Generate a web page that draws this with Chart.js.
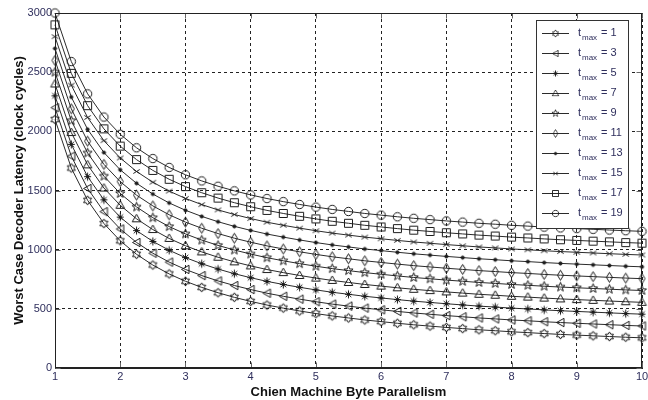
<!DOCTYPE html>
<html>
<head>
<meta charset="utf-8">
<script src="https://cdn.jsdelivr.net/npm/chart.js@4.4.0/dist/chart.umd.min.js"></script>
<style>
  html, body { margin: 0; padding: 0; background: #fff; overflow: hidden; }
</style>
</head>
<body>
<canvas id="latencyChart" width="648" height="400"></canvas>
<script>
// Chien machine byte parallelism (x axis)
const parallelism = [1, 1.25, 1.5, 1.75, 2, 2.25, 2.5, 2.75, 3, 3.25, 3.5, 3.75, 4, 4.25, 4.5, 4.75,
  5, 5.25, 5.5, 5.75, 6, 6.25, 6.5, 6.75, 7, 7.25, 7.5, 7.75, 8, 8.25, 8.5, 8.75, 9, 9.25, 9.5, 9.75, 10];

const tmaxValues = [1, 3, 5, 7, 9, 11, 13, 15, 17, 19];

// Worst case decoder latency (clock cycles), one array per t_max
const lat_t1 = [2100,1690,1417,1221,1075,961,870,795,733,681,636,597,563,532,506,482,460,440,423,406,392,378,365,354,343,333,323,315,306,299,291,284,278,272,266,260,255];
const lat_t3 = [2200,1790,1517,1321,1175,1061,970,895,833,781,736,697,663,632,606,582,560,540,523,506,492,478,465,454,443,433,423,415,406,399,391,384,378,372,366,360,355];
const lat_t5 = [2300,1890,1617,1421,1275,1161,1070,995,933,881,836,797,763,732,706,682,660,640,623,606,592,578,565,554,543,533,523,515,506,499,491,484,478,472,466,460,455];
const lat_t7 = [2400,1990,1717,1521,1375,1261,1170,1095,1033,981,936,897,863,832,806,782,760,740,723,706,692,678,665,654,643,633,623,615,606,599,591,584,578,572,566,560,555];
const lat_t9 = [2500,2090,1817,1621,1475,1361,1270,1195,1133,1081,1036,997,963,932,906,882,860,840,823,806,792,778,765,754,743,733,723,715,706,699,691,684,678,672,666,660,655];
const lat_t11 = [2600,2190,1917,1721,1575,1461,1370,1295,1233,1181,1136,1097,1063,1032,1006,982,960,940,923,906,892,878,865,854,843,833,823,815,806,799,791,784,778,772,766,760,755];
const lat_t13 = [2700,2290,2017,1821,1675,1561,1470,1395,1333,1281,1236,1197,1163,1132,1106,1082,1060,1040,1023,1006,992,978,965,954,943,933,923,915,906,899,891,884,878,872,866,860,855];
const lat_t15 = [2800,2390,2117,1921,1775,1661,1570,1495,1433,1381,1336,1297,1263,1232,1206,1182,1160,1140,1123,1106,1092,1078,1065,1054,1043,1033,1023,1015,1006,999,991,984,978,972,966,960,955];
const lat_t17 = [2900,2490,2217,2021,1875,1761,1670,1595,1533,1481,1436,1397,1363,1332,1306,1282,1260,1240,1223,1206,1192,1178,1165,1154,1143,1133,1123,1115,1106,1099,1091,1084,1078,1072,1066,1060,1055];
const lat_t19 = [3000,2590,2317,2121,1975,1861,1770,1695,1633,1581,1536,1497,1463,1432,1406,1382,1360,1340,1323,1306,1292,1278,1265,1254,1243,1233,1223,1215,1206,1199,1191,1184,1178,1172,1166,1160,1155];

const allSeries = [lat_t1, lat_t3, lat_t5, lat_t7, lat_t9, lat_t11, lat_t13, lat_t15, lat_t17, lat_t19];
const markerKinds = ['hexagram', 'triLeft', 'asterisk', 'triUp', 'pentagram', 'diamond', 'dot', 'cross', 'square', 'circle'];

const ink = '#1c1c1c';
const tickColor = '#2e2e5c';

// marker images, matlab-like
function starPath(g, m, n, ro, ri) {
    for (let i = 0; i < 2 * n; i++) {
        const r = i % 2 === 0 ? ro : ri;
        const a = -Math.PI / 2 + i * Math.PI / n;
        const px = m + r * Math.cos(a), py = m + r * Math.sin(a);
        if (i === 0) g.moveTo(px, py); else g.lineTo(px, py);
    }
    g.closePath();
}

function makeMarker(kind) {
    const c = document.createElement('canvas');
    c.width = 13; c.height = 13;
    const g = c.getContext('2d');
    const m = 6.5;
    g.strokeStyle = ink;
    g.fillStyle = ink;
    g.lineWidth = 1;
    g.beginPath();
    switch (kind) {
        case 'hexagram': starPath(g, m, 6, 4.6, 2.7); break;
        case 'pentagram': starPath(g, m, 5, 4.8, 2.0); break;
        case 'triLeft':
            g.moveTo(m - 4, m); g.lineTo(m + 3.5, m - 4.2); g.lineTo(m + 3.5, m + 4.2); g.closePath(); break;
        case 'triUp':
            g.moveTo(m, m - 4.5); g.lineTo(m + 4.3, m + 3); g.lineTo(m - 4.3, m + 3); g.closePath(); break;
        case 'asterisk':
            g.moveTo(m, m - 4); g.lineTo(m, m + 4);
            g.moveTo(m - 3.5, m); g.lineTo(m + 3.5, m);
            g.moveTo(m - 2.8, m - 2.8); g.lineTo(m + 2.8, m + 2.8);
            g.moveTo(m - 2.8, m + 2.8); g.lineTo(m + 2.8, m - 2.8); break;
        case 'diamond':
            g.moveTo(m, m - 5); g.lineTo(m + 3, m); g.lineTo(m, m + 5); g.lineTo(m - 3, m); g.closePath(); break;
        case 'dot':
            g.arc(m, m, 1.6, 0, Math.PI * 2); g.fill(); break;
        case 'cross':
            g.moveTo(m - 3.2, m - 2); g.lineTo(m + 3.2, m + 2);
            g.moveTo(m - 3.2, m + 2); g.lineTo(m + 3.2, m - 2); break;
        case 'square':
            g.rect(m - 4, m - 4, 8, 8); break;
        case 'circle':
            g.arc(m, m, 4.2, 0, Math.PI * 2); break;
    }
    g.stroke();
    return c;
}

const markerImages = markerKinds.map(makeMarker);

const datasets = allSeries.map((vals, i) => ({
    label: 't_max = ' + tmaxValues[i],
    data: vals.map((v, j) => ({ x: parallelism[j], y: v })),
    borderColor: '#2a2a2a',
    borderWidth: 1,
    pointStyle: markerImages[i],
    pointRadius: 5,
    tension: 0,
    fill: false,
    clip: 10
}));

// frame, inward tick marks and legend box (matlab look)
const matlabFrame = {
    id: 'matlabFrame',
    afterDraw(chart) {
        const { ctx, chartArea: a, scales } = chart;
        const L = Math.round(a.left) + 0.5, R = Math.round(a.right) - 0.5;
        const T = Math.round(a.top) + 0.5, B = Math.round(a.bottom) - 0.5;
        ctx.save();
        ctx.lineWidth = 1;
        ctx.strokeStyle = '#666';
        ctx.beginPath();
        scales.x.ticks.forEach(t => {
            const px = Math.round(scales.x.getPixelForValue(t.value)) + 0.5;
            ctx.moveTo(px, B); ctx.lineTo(px, B - 5);
            ctx.moveTo(px, T); ctx.lineTo(px, T + 5);
        });
        scales.y.ticks.forEach(t => {
            const py = Math.round(scales.y.getPixelForValue(t.value)) + 0.5;
            ctx.moveTo(L, py); ctx.lineTo(L + 5, py);
            ctx.moveTo(R, py); ctx.lineTo(R - 5, py);
        });
        ctx.stroke();
        ctx.strokeStyle = '#222';
        ctx.strokeRect(L, T, R - L, B - T);

        // legend
        const lx = 536.5, ly = 20.5, lw = 92, lh = 208;
        ctx.fillStyle = '#fff';
        ctx.fillRect(lx, ly, lw, lh);
        ctx.strokeStyle = '#333';
        ctx.strokeRect(lx, ly, lw, lh);
        tmaxValues.forEach((t, i) => {
            const y = 33 + i * 20;
            ctx.strokeStyle = '#2a2a2a';
            ctx.beginPath();
            ctx.moveTo(542, y + 0.5); ctx.lineTo(569, y + 0.5);
            ctx.stroke();
            const img = markerImages[i];
            ctx.drawImage(img, 555.5 - 5, y + 0.5 - 5, 10, 10);
            ctx.fillStyle = tickColor;
            ctx.textBaseline = 'alphabetic';
            ctx.textAlign = 'left';
            ctx.font = '11px "Liberation Sans", Arial, sans-serif';
            ctx.fillText('t', 578, y + 3);
            ctx.font = '8px "Liberation Sans", Arial, sans-serif';
            ctx.fillText('max', 582, y + 7);
            ctx.font = '11px "Liberation Sans", Arial, sans-serif';
            ctx.fillText('= ' + t, 601, y + 3);
        });
        ctx.restore();
    }
};

new Chart(document.getElementById('latencyChart'), {
    type: 'line',
    data: { datasets: datasets },
    options: {
        responsive: false,
        animation: false,
        devicePixelRatio: 1,
        layout: { padding: { top: 13, right: 5, left: 0, bottom: 0 } },
        plugins: {
            legend: { display: false },
            tooltip: { enabled: false }
        },
        scales: {
            x: {
                type: 'linear',
                min: 1,
                max: 10,
                ticks: {
                    stepSize: 1,
                    color: tickColor,
                    font: { family: '"Liberation Sans", Arial, sans-serif', size: 11 },
                    padding: 2,
                    maxRotation: 0
                },
                grid: { color: '#222', drawTicks: false, lineWidth: 1 },
                border: { display: true, color: '#222', dash: [3, 3] },
                title: {
                    display: true,
                    text: 'Chien Machine Byte Parallelism',
                    color: '#111',
                    font: { family: '"Liberation Sans", Arial, sans-serif', size: 13, weight: 'bold' },
                    padding: { top: 1, bottom: 0 }
                },
                afterFit: s => { s.height = 32; s.paddingLeft = 0; s.paddingRight = 0; }
            },
            y: {
                min: 0,
                max: 3000,
                ticks: {
                    stepSize: 500,
                    color: tickColor,
                    font: { family: '"Liberation Sans", Arial, sans-serif', size: 11 },
                    padding: 3,
                    callback: v => String(v)
                },
                grid: { color: '#222', drawTicks: false, lineWidth: 1 },
                border: { display: true, color: '#222', dash: [3, 3] },
                title: {
                    display: true,
                    text: 'Worst Case Decoder Latency (clock cycles)',
                    color: '#111',
                    font: { family: '"Liberation Sans", Arial, sans-serif', size: 13, weight: 'bold' },
                    padding: { top: 12, bottom: 0 }
                },
                afterFit: s => { s.width = 55; s.paddingTop = 0; s.paddingBottom = 0; }
            }
        }
    },
    plugins: [matlabFrame]
});
</script>
</body>
</html>
